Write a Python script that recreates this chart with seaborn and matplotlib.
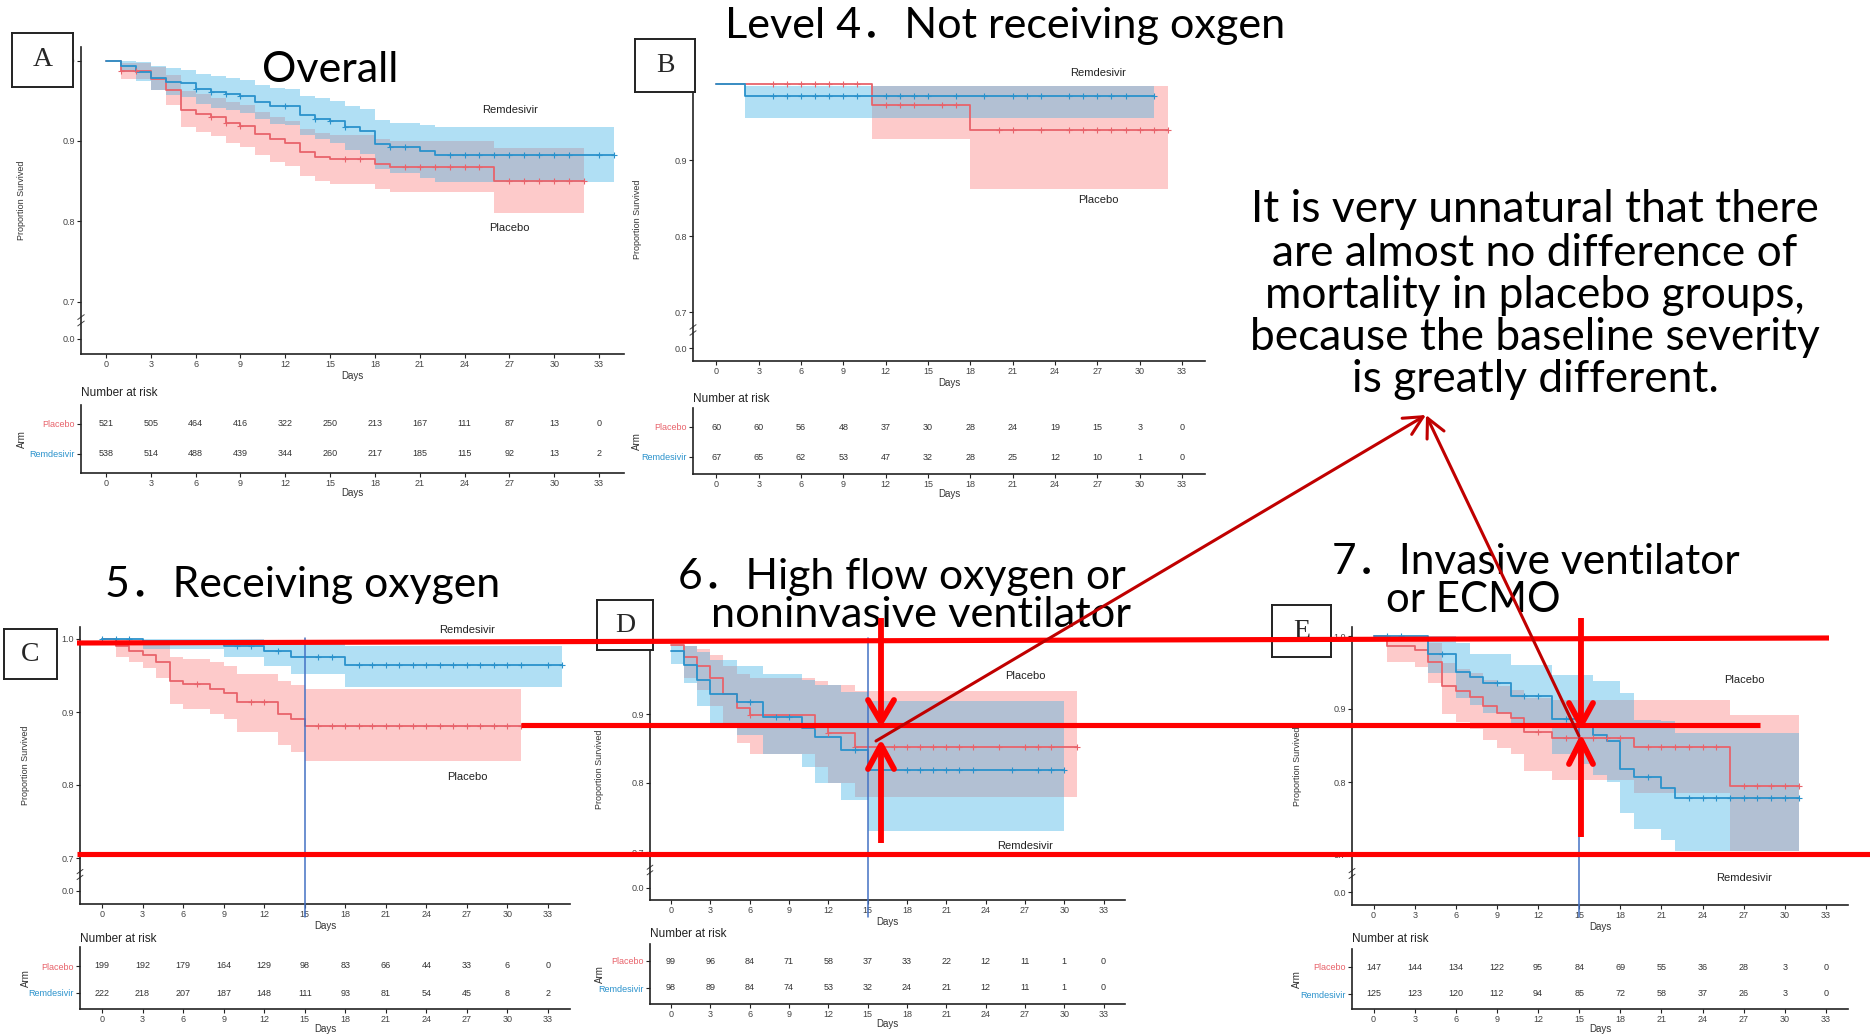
import numpy as np
import seaborn as sns
import matplotlib.pyplot as plt
from matplotlib.transforms import blended_transform_factory

# ─────────────────────────────────────────
# DATA
# each arm: step times, survival, lower CI, upper CI, last day, censor days
# ─────────────────────────────────────────
DAYS = list(range(0, 34, 3))

# A  Overall
A_pla_t    = [0, 1, 3, 4, 5, 6, 7, 8, 9, 10, 11, 12, 13, 14, 15, 18, 19, 26]
A_pla_s    = [1.0, 0.987, 0.977, 0.963, 0.939, 0.934, 0.930, 0.923, 0.919, 0.909, 0.902, 0.897, 0.886, 0.880, 0.877, 0.871, 0.868, 0.850]
A_pla_lo   = [1.0, 0.977, 0.963, 0.945, 0.917, 0.911, 0.906, 0.898, 0.893, 0.882, 0.874, 0.869, 0.857, 0.850, 0.847, 0.840, 0.837, 0.810]
A_pla_hi   = [1.0, 0.997, 0.992, 0.982, 0.962, 0.958, 0.954, 0.948, 0.945, 0.936, 0.930, 0.925, 0.915, 0.910, 0.907, 0.902, 0.900, 0.891]
A_pla_end  = 32
A_pla_cens = [1, 2, 7, 8, 9, 16, 17, 20, 21, 22, 23, 24, 25, 27, 28, 29, 30, 31, 32]
A_rem_t    = [0, 1, 2, 3, 4, 5, 6, 7, 8, 9, 10, 11, 12, 13, 14, 15, 16, 17, 18, 19, 21, 22]
A_rem_s    = [1.0, 0.993, 0.986, 0.978, 0.974, 0.972, 0.965, 0.961, 0.958, 0.956, 0.949, 0.944, 0.943, 0.932, 0.928, 0.925, 0.917, 0.913, 0.896, 0.892, 0.887, 0.882]
A_rem_lo   = [1.0, 0.986, 0.975, 0.963, 0.957, 0.955, 0.946, 0.941, 0.938, 0.935, 0.927, 0.921, 0.920, 0.907, 0.902, 0.898, 0.889, 0.884, 0.865, 0.860, 0.854, 0.849]
A_rem_hi   = [1.0, 1.0, 0.998, 0.994, 0.991, 0.989, 0.984, 0.981, 0.978, 0.976, 0.970, 0.966, 0.965, 0.956, 0.953, 0.950, 0.944, 0.940, 0.926, 0.923, 0.920, 0.918]
A_rem_end  = 34
A_rem_cens = [6, 7, 8, 9, 12, 14, 15, 16, 19, 20, 23, 24, 25, 26, 27, 28, 29, 30, 31, 33, 34]
A_risk_pla = [521, 505, 464, 416, 322, 250, 213, 167, 111, 87, 13, 0]
A_risk_rem = [538, 514, 488, 439, 344, 260, 217, 185, 115, 92, 13, 2]

# B  Not receiving oxygen
B_pla_t    = [0, 11, 18]
B_pla_s    = [1.0, 0.972, 0.940]
B_pla_lo   = [1.0, 0.928, 0.862]
B_pla_hi   = [1.0, 0.998, 0.998]
B_pla_end  = 32
B_pla_cens = [4, 5, 6, 7, 8, 9, 10, 12, 13, 14, 16, 17, 20, 21, 23, 25, 26, 27, 28, 29, 30, 31, 32]
B_rem_t    = [0, 2]
B_rem_s    = [1.0, 0.984]
B_rem_lo   = [1.0, 0.955]
B_rem_hi   = [1.0, 0.998]
B_rem_end  = 31
B_rem_cens = [4, 5, 6, 7, 8, 9, 10, 12, 13, 14, 15, 17, 19, 21, 22, 23, 25, 26, 27, 28, 29, 31]
B_risk_pla = [60, 60, 56, 48, 37, 30, 28, 24, 19, 15, 3, 0]
B_risk_rem = [67, 65, 62, 53, 47, 32, 28, 25, 12, 10, 1, 0]

# C  Receiving oxygen
C_pla_t    = [0, 1, 2, 3, 4, 5, 6, 8, 9, 10, 13, 14, 15]
C_pla_s    = [1.0, 0.990, 0.984, 0.978, 0.968, 0.943, 0.938, 0.932, 0.926, 0.914, 0.897, 0.890, 0.881]
C_pla_lo   = [1.0, 0.976, 0.969, 0.960, 0.946, 0.911, 0.904, 0.897, 0.890, 0.873, 0.855, 0.845, 0.833]
C_pla_hi   = [1.0, 1.0, 0.998, 0.995, 0.992, 0.976, 0.973, 0.969, 0.963, 0.952, 0.942, 0.937, 0.932]
C_pla_end  = 31
C_pla_cens = [7, 11, 12, 16, 17, 18, 19, 20, 21, 22, 23, 24, 25, 26, 27, 28, 29, 30, 31]
C_rem_t    = [0, 3, 9, 12, 14, 18]
C_rem_s    = [1.0, 0.997, 0.990, 0.983, 0.975, 0.965]
C_rem_lo   = [1.0, 0.986, 0.976, 0.963, 0.952, 0.934]
C_rem_hi   = [1.0, 1.0, 1.0, 0.998, 0.995, 0.990]
C_rem_end  = 34
C_rem_cens = [0, 1, 2, 10, 11, 13, 16, 17, 19, 20, 21, 22, 23, 24, 25, 26, 27, 28, 29, 30, 31, 33, 34]
C_risk_pla = [199, 192, 179, 164, 129, 98, 83, 66, 44, 33, 6, 0]
C_risk_rem = [222, 218, 207, 187, 148, 111, 93, 81, 54, 45, 8, 2]

# D  High flow oxygen / noninvasive ventilation
D_pla_t    = [0, 1, 2, 3, 4, 5, 6, 11, 12, 14]
D_pla_s    = [1.0, 0.983, 0.970, 0.952, 0.929, 0.908, 0.899, 0.882, 0.872, 0.852]
D_pla_lo   = [1.0, 0.952, 0.935, 0.912, 0.884, 0.858, 0.842, 0.823, 0.800, 0.779]
D_pla_hi   = [1.0, 0.998, 0.994, 0.985, 0.970, 0.958, 0.952, 0.948, 0.942, 0.933]
D_pla_end  = 31
D_pla_cens = [6, 11, 12, 14, 17, 18, 19, 20, 21, 22, 23, 25, 27, 28, 29, 31]
D_rem_t    = [0, 1, 2, 3, 5, 7, 10, 11, 13, 15]
D_rem_s    = [0.991, 0.971, 0.950, 0.929, 0.917, 0.895, 0.880, 0.866, 0.848, 0.819]
D_rem_lo   = [0.972, 0.945, 0.912, 0.885, 0.870, 0.842, 0.823, 0.800, 0.775, 0.731]
D_rem_hi   = [1.0, 0.998, 0.990, 0.978, 0.970, 0.958, 0.950, 0.942, 0.932, 0.919]
D_rem_end  = 30
D_rem_cens = [6, 8, 9, 14, 18, 19, 20, 21, 22, 23, 26, 28, 29, 30]
D_risk_pla = [99, 96, 84, 71, 58, 37, 33, 22, 12, 11, 1, 0]
D_risk_rem = [98, 89, 84, 74, 53, 32, 24, 21, 12, 11, 1, 0]

# E  Invasive ventilation / ECMO
E_pla_t    = [0, 1, 3, 4, 5, 6, 7, 8, 9, 10, 11, 13, 19, 26]
E_pla_s    = [1.0, 0.986, 0.981, 0.965, 0.932, 0.924, 0.917, 0.904, 0.895, 0.888, 0.869, 0.860, 0.848, 0.794]
E_pla_lo   = [1.0, 0.965, 0.958, 0.935, 0.893, 0.882, 0.872, 0.858, 0.846, 0.838, 0.815, 0.803, 0.785, 0.705]
E_pla_hi   = [1.0, 0.998, 0.995, 0.990, 0.963, 0.955, 0.950, 0.940, 0.932, 0.926, 0.915, 0.913, 0.913, 0.892]
E_pla_end  = 31
E_pla_cens = [12, 14, 16, 17, 18, 20, 21, 22, 23, 24, 25, 27, 28, 29, 30, 31]
E_rem_t    = [0, 4, 6, 7, 8, 10, 13, 15, 16, 17, 18, 19, 21, 22]
E_rem_s    = [1.0, 0.976, 0.951, 0.944, 0.935, 0.918, 0.886, 0.876, 0.865, 0.856, 0.818, 0.807, 0.792, 0.778]
E_rem_lo   = [1.0, 0.950, 0.915, 0.905, 0.895, 0.875, 0.838, 0.825, 0.810, 0.800, 0.758, 0.735, 0.720, 0.705]
E_rem_hi   = [1.0, 1.0, 0.990, 0.976, 0.976, 0.960, 0.947, 0.947, 0.938, 0.938, 0.922, 0.885, 0.883, 0.867]
E_rem_end  = 31
E_rem_cens = [1, 2, 5, 9, 11, 12, 14, 20, 23, 24, 25, 26, 27, 28, 29, 30, 31]
E_risk_pla = [147, 144, 134, 122, 95, 84, 69, 55, 36, 28, 3, 0]
E_risk_rem = [125, 123, 120, 112, 94, 85, 72, 58, 37, 26, 3, 0]

NOTE_LINES = ["It is very unnatural that there",
              "are almost no difference of",
              "mortality in placebo groups,",
              "because the baseline severity",
              "is greatly different."]

# ─────────────────────────────────────────
# STYLE / LAYOUT (pixel positions of the 1870x1034 canvas)
# ─────────────────────────────────────────
W, H = 1870, 1034
RED, BLUE = "#E8636B", "#2A92CC"
PINK, LBLUE, GRAY = "#FDCACA", "#B0DFF4", "#B2C0D3"
BIG = ["Lato", "Noto Sans CJK JP", "DejaVu Sans"]

sns.set_theme(style="white")
plt.rcParams["font.family"] = ["Liberation Sans", "DejaVu Sans"]

GEO = {
    "A": dict(l=81, r=624, t=47, b=354, x0=106, x33=599, y10=60.7, y09=141, y00=339,
              rt=405, rb=473, r1=424, r2=454, nr=393, yl=59, box=(12, 33, 73, 87),
              lab_rem=(510, 110), lab_pla=(509, 228)),
    "B": dict(l=693, r=1205, t=78, b=361, x0=716.4, x33=1182, y10=84, y09=160, y00=348,
              rt=408, rb=474, r1=427, r2=457, nr=399, yl=56, box=(635, 39, 695, 92),
              lab_rem=(1098, 73), lab_pla=(1098, 200)),
    "C": dict(l=80, r=570, t=627, b=904, x0=102, x33=548, y10=639, y09=712, y00=891,
              rt=947, rb=1009, r1=966, r2=993, nr=939, yl=54, box=(4, 629, 57, 679),
              lab_rem=(467, 630), lab_pla=(467, 777)),
    "D": dict(l=650, r=1125, t=638, b=900, x0=671, x33=1103.6, y10=645, y09=714, y00=888,
              rt=944, rb=1004, r1=961, r2=988, nr=934, yl=50, box=(597, 600, 653, 650),
              lab_rem=(1025, 846), lab_pla=(1025, 676)),
    "E": dict(l=1352, r=1848, t=627, b=905, x0=1373.6, x33=1826, y10=636, y09=709, y00=892,
              rt=949, rb=1009, r1=967, r2=994, nr=939, yl=55, box=(1272, 605, 1331, 657),
              lab_rem=(1744, 878), lab_pla=(1744, 680)),
}

fig = plt.figure(figsize=(W / 100, H / 100), dpi=100)
fig.patch.set_facecolor("white")
renderer = fig.canvas.get_renderer()


def rect(l, t, r, b):
    return [l / W, 1 - b / H, (r - l) / W, (b - t) / H]


def step_at(t, v, x):
    idx = np.searchsorted(np.asarray(t, float), np.asarray(x, float), side="right") - 1
    return np.asarray(v, float)[np.clip(idx, 0, None)]


def xlims(g):
    ppd = (g["x33"] - g["x0"]) / 33
    return (g["l"] - g["x0"]) / ppd, 33 + (g["r"] - g["x33"]) / ppd


def ribbon(ax, arm, color):
    t, s, lo, hi, end, cens = arm
    ax.fill_between(np.r_[t, end], np.r_[lo, lo[-1]], np.r_[hi, hi[-1]],
                    step="post", color=color, lw=0, zorder=1)


def overlap(ax, a, b):
    end = min(a[4], b[4])
    grid = np.unique(np.r_[a[0], b[0], end])
    grid = grid[grid <= end]
    lo = np.maximum(step_at(a[0], a[2], grid), step_at(b[0], b[2], grid))
    hi = np.minimum(step_at(a[0], a[3], grid), step_at(b[0], b[3], grid))
    ax.fill_between(grid, lo, np.maximum(hi, lo), step="post", color=GRAY, lw=0, zorder=1.5)


def curve(ax, arm, color):
    t, s, lo, hi, end, cens = arm
    sns.lineplot(x=np.r_[t, end], y=np.r_[s, s[-1]], drawstyle="steps-post", color=color,
                 lw=1.3, ax=ax, estimator=None, sort=False, zorder=3)
    sns.scatterplot(x=cens, y=step_at(t, s, cens), marker="+", s=18, color=color,
                    linewidth=0.8, ax=ax, zorder=4)


def style_spines(ax):
    sns.despine(ax=ax)
    for sp in ("left", "bottom"):
        ax.spines[sp].set_color("#222222")
        ax.spines[sp].set_linewidth(1.2)
    ax.tick_params(axis="both", labelsize=6.5, labelcolor="#444444", color="#222222",
                   length=3, width=0.8, pad=1.5, left=True, bottom=True)


def panel(key, pla, rem, risk_pla, risk_rem):
    g = GEO[key]
    ax = fig.add_axes(rect(g["l"], g["t"], g["r"], g["b"]))
    ax.set_facecolor("none")
    k = g["y09"] - g["y10"]
    ymin = 1 - (g["b"] - g["y10"]) / k * 0.1
    ymax = 1 + (g["y10"] - g["t"]) / k * 0.1
    yz = 1 - (g["y00"] - g["y10"]) / k * 0.1

    ribbon(ax, pla, PINK)
    ribbon(ax, rem, LBLUE)
    overlap(ax, pla, rem)
    curve(ax, pla, RED)
    curve(ax, rem, BLUE)

    ax.set_xlim(*xlims(g))
    ax.set_ylim(ymin, ymax)
    ax.set_xticks(DAYS, [str(d) for d in DAYS])
    ax.set_yticks([yz, 0.7, 0.8, 0.9, 1.0], ["0.0", "0.7", "0.8", "0.9", "1.0"])
    ax.set_xlabel("Days", fontsize=7, color="#333333", labelpad=1)
    ax.set_ylabel("")
    style_spines(ax)
    # axis break mark
    tr = blended_transform_factory(ax.transAxes, ax.transData)
    yb = (yz + 0.7) / 2
    for dy in (-0.004, 0.004):
        ax.plot([-0.006, 0.006], [yb + dy - 0.003, yb + dy + 0.003], color="#444444",
                lw=0.7, transform=tr, clip_on=False)

    fig.text((g["l"] - g["yl"]) / W, 1 - (g["t"] + g["b"]) / 2 / H, "Proportion Survived",
             rotation=90, ha="center", va="center", fontsize=6.5, color="#333333")
    x, y = g["lab_rem"]
    fig.text(x / W, 1 - y / H, "Remdesivir", ha="center", va="center", fontsize=8, color="#222222")
    x, y = g["lab_pla"]
    fig.text(x / W, 1 - y / H, "Placebo", ha="center", va="center", fontsize=8, color="#222222")

    # number at risk table
    rt = fig.add_axes(rect(g["l"], g["rt"], g["r"], g["rb"]))
    rt.set_facecolor("none")
    rt.set_xlim(*xlims(g))
    rt.set_ylim(0, 1)
    fy = lambda p: (g["rb"] - p) / (g["rb"] - g["rt"])
    for d, n1, n2 in zip(DAYS, risk_pla, risk_rem):
        rt.text(d, fy(g["r1"]), str(n1), ha="center", va="center", fontsize=6.5, color="#333333")
        rt.text(d, fy(g["r2"]), str(n2), ha="center", va="center", fontsize=6.5, color="#333333")
    rt.set_xticks(DAYS, [str(d) for d in DAYS])
    rt.set_yticks([fy(g["r1"]), fy(g["r2"])], ["Placebo", "Remdesivir"])
    style_spines(rt)
    rt.tick_params(axis="x", pad=1)
    for lbl, c in zip(rt.get_yticklabels(), [RED, BLUE]):
        lbl.set_color(c)
    rt.set_xlabel("Days", fontsize=7, color="#333333", labelpad=0)
    fig.text(g["l"] / W, 1 - g["nr"] / H, "Number at risk", ha="left", va="center",
             fontsize=8.5, color="#222222")
    fig.text((g["l"] - g["yl"]) / W, 1 - (g["rt"] + g["rb"]) / 2 / H, "Arm", rotation=90,
             ha="center", va="center", fontsize=7, color="#333333")

    # panel letter box
    l, t, r, b = g["box"]
    bx = fig.add_axes(rect(l, t, r, b))
    bx.set_xticks([])
    bx.set_yticks([])
    bx.set_facecolor("white")
    for sp in bx.spines.values():
        sp.set_color("#222222")
        sp.set_linewidth(1.4)
    bx.text(0.5, 0.5, key, ha="center", va="center", fontsize=20,
            family=["Liberation Serif", "DejaVu Serif"], transform=bx.transAxes)
    return ax


def arm(t, s, lo, hi, end, cens):
    return (t, s, lo, hi, end, cens)


panel("A", arm(A_pla_t, A_pla_s, A_pla_lo, A_pla_hi, A_pla_end, A_pla_cens),
      arm(A_rem_t, A_rem_s, A_rem_lo, A_rem_hi, A_rem_end, A_rem_cens), A_risk_pla, A_risk_rem)
panel("B", arm(B_pla_t, B_pla_s, B_pla_lo, B_pla_hi, B_pla_end, B_pla_cens),
      arm(B_rem_t, B_rem_s, B_rem_lo, B_rem_hi, B_rem_end, B_rem_cens), B_risk_pla, B_risk_rem)
panel("C", arm(C_pla_t, C_pla_s, C_pla_lo, C_pla_hi, C_pla_end, C_pla_cens),
      arm(C_rem_t, C_rem_s, C_rem_lo, C_rem_hi, C_rem_end, C_rem_cens), C_risk_pla, C_risk_rem)
panel("D", arm(D_pla_t, D_pla_s, D_pla_lo, D_pla_hi, D_pla_end, D_pla_cens),
      arm(D_rem_t, D_rem_s, D_rem_lo, D_rem_hi, D_rem_end, D_rem_cens), D_risk_pla, D_risk_rem)
panel("E", arm(E_pla_t, E_pla_s, E_pla_lo, E_pla_hi, E_pla_end, E_pla_cens),
      arm(E_rem_t, E_rem_s, E_rem_lo, E_rem_hi, E_rem_end, E_rem_cens), E_risk_pla, E_risk_rem)


# ─────────────────────────────────────────
# BIG TITLES + NOTE (font size fitted to the width seen in the reference)
# ─────────────────────────────────────────
def fit_text(x, y, s, width, ha="center", size=None):
    t = fig.text(x / W, 1 - y / H, s, ha=ha, va="center", fontsize=20, family=BIG, color="black")
    if size is None:
        size = 20 * width / t.get_window_extent(renderer).width
    t.set_fontsize(size)
    return size


fit_text(330, 70, "Overall", 137)
fit_text(1005, 26, "Level 4．Not receiving oxgen", 562)
fit_text(303, 585, "5．Receiving oxygen", 396)
fit_text(902, 577, "6．High flow oxygen or", 448)
fit_text(921, 615, "noninvasive ventilator", 422)
fit_text(1332, 562, "7．Invasive ventilator", 409, ha="left")
fit_text(1386, 600, "or ECMO", 174, ha="left")

note_size = fit_text(1535, 210, NOTE_LINES[0], 569)
for line, y in zip(NOTE_LINES[1:], [253, 295, 337, 379]):
    fit_text(1535, y, line, 0, size=note_size)

# ─────────────────────────────────────────
# OVERLAY: red guide lines, day-15 markers, arrows
# ─────────────────────────────────────────
ov = fig.add_axes([0, 0, 1, 1], zorder=10)
ov.set_xlim(0, W)
ov.set_ylim(H, 0)
ov.axis("off")
ov.patch.set_alpha(0)

for key, top in (("C", 638), ("D", 638), ("E", 640)):
    g = GEO[key]
    x15 = g["x0"] + 15 * (g["x33"] - g["x0"]) / 33
    ov.plot([x15, x15], [top, 917], color="#4472C4", lw=1.1)

RL = 3.7
ov.plot([77, 1829], [643, 638], color="#FF0000", lw=RL, solid_capstyle="butt")
ov.plot([521, 1760], [725, 725], color="#FF0000", lw=RL, solid_capstyle="butt")
ov.plot([77, 1870], [854, 854], color="#FF0000", lw=RL, solid_capstyle="butt")

for xa, y_top, tip_dn, y_bot, tip_up, hw in ((881, 618, 722, 843, 745, 13),
                                             (1581, 618, 725, 837, 740, 12)):
    ov.plot([xa, xa], [y_top, tip_dn], color="#FF0000", lw=4.2, solid_capstyle="butt")
    ov.plot([xa - hw, xa, xa + hw], [tip_dn - 22, tip_dn, tip_dn - 22], color="#FF0000", lw=4.2)
    ov.plot([xa, xa], [tip_up, y_bot], color="#FF0000", lw=4.2, solid_capstyle="butt")
    ov.plot([xa - hw, xa, xa + hw], [tip_up + 24, tip_up, tip_up + 24], color="#FF0000", lw=4.2)

for start in ((876, 741), (1579, 736)):
    ov.annotate("", xy=(1426, 415), xytext=start,
                arrowprops=dict(arrowstyle="->,head_length=0.9,head_width=0.45", mutation_scale=15,
                                color="#C00000", lw=2.2, shrinkA=0, shrinkB=0))

fig.savefig("out.png", dpi=100, facecolor="white")
